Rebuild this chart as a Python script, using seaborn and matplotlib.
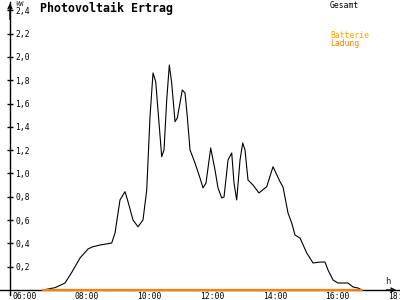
import numpy as np
import pandas as pd
import matplotlib
matplotlib.use("Agg")
import matplotlib.pyplot as plt
import matplotlib.transforms as mtransforms
import seaborn as sns

# ---- data (hours of day, kW) ----
hours = [6.926, 7.309, 7.628, 7.851, 8.107, 8.362, 8.490, 8.745, 9.118, 9.224,
         9.383, 9.543, 9.639, 9.798, 9.958, 10.117, 10.236, 10.341, 10.437, 10.523,
         10.714, 10.788, 10.874, 10.957, 11.033, 11.139, 11.212, 11.372, 11.458, 11.531,
         11.618, 11.777, 11.937, 12.033, 12.128, 12.278, 12.416, 12.511, 12.629, 12.703,
         12.831, 12.949, 13.022, 13.108, 13.214, 13.300, 13.373, 13.469, 13.628, 13.820,
         14.066, 14.267, 14.490, 14.586, 14.746, 14.864, 14.969, 15.129, 15.343, 15.544,
         15.767, 15.927, 16.022, 16.182, 16.341, 16.501, 16.661, 16.820, 16.980, 17.108]
gesamt = [0.0, 0.02, 0.06, 0.155, 0.275, 0.352, 0.369, 0.386, 0.403, 0.489,
          0.773, 0.844, 0.758, 0.601, 0.543, 0.601, 0.858, 1.488, 1.863, 1.788,
          1.144, 1.202, 1.631, 1.931, 1.777, 1.445, 1.476, 1.717, 1.691, 1.488,
          1.202, 1.090, 0.961, 0.876, 0.918, 1.219, 1.030, 0.876, 0.790, 0.798,
          1.116, 1.176, 0.918, 0.773, 1.116, 1.262, 1.202, 0.944, 0.901, 0.833,
          0.887, 1.058, 0.930, 0.884, 0.661, 0.575, 0.472, 0.446, 0.318, 0.232,
          0.240, 0.240, 0.172, 0.086, 0.060, 0.060, 0.060, 0.026, 0.017, 0.0]
batterie_ladung = [0.0] * len(hours)

x_ticks = [6, 8, 10, 12, 14, 16, 18]
x_tick_labels = ["06:00", "08:00", "10:00", "12:00", "14:00", "16:00", "18:00"]
y_ticks = [0.2, 0.4, 0.6, 0.8, 1.0, 1.2, 1.4, 1.6, 1.8, 2.0, 2.2, 2.4]
y_tick_labels = ["0,2", "0,4", "0,6", "0,8", "1,0", "1,2", "1,4", "1,6", "1,8", "2,0", "2,2", "2,4"]

title = "Photovoltaik Ertrag"
series_names = ["Gesamt", "Batterie", "Ladung"]

# ---- style ----
sns.set_style("white")
plt.rcParams["font.family"] = ["DejaVu Sans Mono", "DejaVu Sans"]
mono = "DejaVu Sans Mono"

fig = plt.figure(figsize=(4, 3), dpi=100)
ax = fig.add_axes([0, 0, 1, 1])
ax.set_facecolor("white")

df = pd.DataFrame({"h": hours, "gesamt": gesamt, "lad": batterie_ladung})
sns.lineplot(data=df, x="h", y="gesamt", ax=ax, color="black", linewidth=0.8,
             estimator=None, sort=False)
sns.lineplot(data=df, x="h", y="lad", ax=ax, color="#ff8000", linewidth=1.6,
             estimator=None, sort=False, zorder=5)

xmin, xmax = 5.553, 18.320
ymin, ymax = -0.0858, 2.489
ax.set_xlim(xmin, xmax)
ax.set_ylim(ymin, ymax)
ax.set_xlabel("")
ax.set_ylabel("")

# axes: y axis as right spine placed at x=5.872, x axis at y=0
yaxis_x = 5.872
for s in ["top", "left"]:
    ax.spines[s].set_visible(False)
ax.spines["right"].set_position(("data", yaxis_x))
ax.spines["right"].set_bounds(-0.043, 2.47)
ax.spines["bottom"].set_position(("data", 0))
ax.spines["bottom"].set_bounds(xmin, 18.30)
for s in ["right", "bottom"]:
    ax.spines[s].set_color("black")
    ax.spines[s].set_linewidth(1.0)
    ax.spines[s].set_visible(True)

ax.yaxis.tick_right()
ax.set_yticks(y_ticks)
ax.set_yticklabels(y_tick_labels, fontsize=5.8, family=mono)
ax.tick_params(axis="y", direction="inout", length=5, width=1, pad=1.5, colors="black")

ax.set_xticks(x_ticks)
ax.set_xticklabels(x_tick_labels, fontsize=5.8, family=mono, ha="left")
ax.tick_params(axis="x", direction="inout", length=5, width=1, pad=-1.2, colors="black")
off = mtransforms.ScaledTranslation(-2 / 100, 0, fig.dpi_scale_trans)
for lab in ax.get_xticklabels():
    lab.set_transform(lab.get_transform() + off)

ax.grid(False)

# arrow heads
ax.annotate("", xy=(yaxis_x, ymax - 0.005), xytext=(yaxis_x, 2.3),
            arrowprops=dict(arrowstyle="->", lw=1.0, color="black", mutation_scale=7))
ax.annotate("", xy=(xmax - 0.03, 0), xytext=(17.8, 0),
            arrowprops=dict(arrowstyle="->", lw=1.0, color="black", mutation_scale=7))

# texts
fig.text(40 / 400, 1 - 2 / 300, title, ha="left", va="top", fontsize=8.4,
         fontweight="bold", family=mono, color="black")
fig.text(15 / 400, 1 - 1 / 300, "kW", ha="left", va="top", fontsize=5.0, family=mono)
fig.text(385 / 400, 1 - 277 / 300, "h", ha="left", va="top", fontsize=6.5, family=mono)
fig.text(330 / 400, 1 - 1 / 300, series_names[0], ha="left", va="top", fontsize=5.8,
         family=mono, color="black")
fig.text(330 / 400, 1 - 31 / 300, series_names[1], ha="left", va="top", fontsize=5.8,
         family=mono, color="#ffa500")
fig.text(330 / 400, 1 - 39 / 300, series_names[2], ha="left", va="top", fontsize=5.8,
         family=mono, color="#ff8000")

fig.savefig("out.png", dpi=100, facecolor="white")
